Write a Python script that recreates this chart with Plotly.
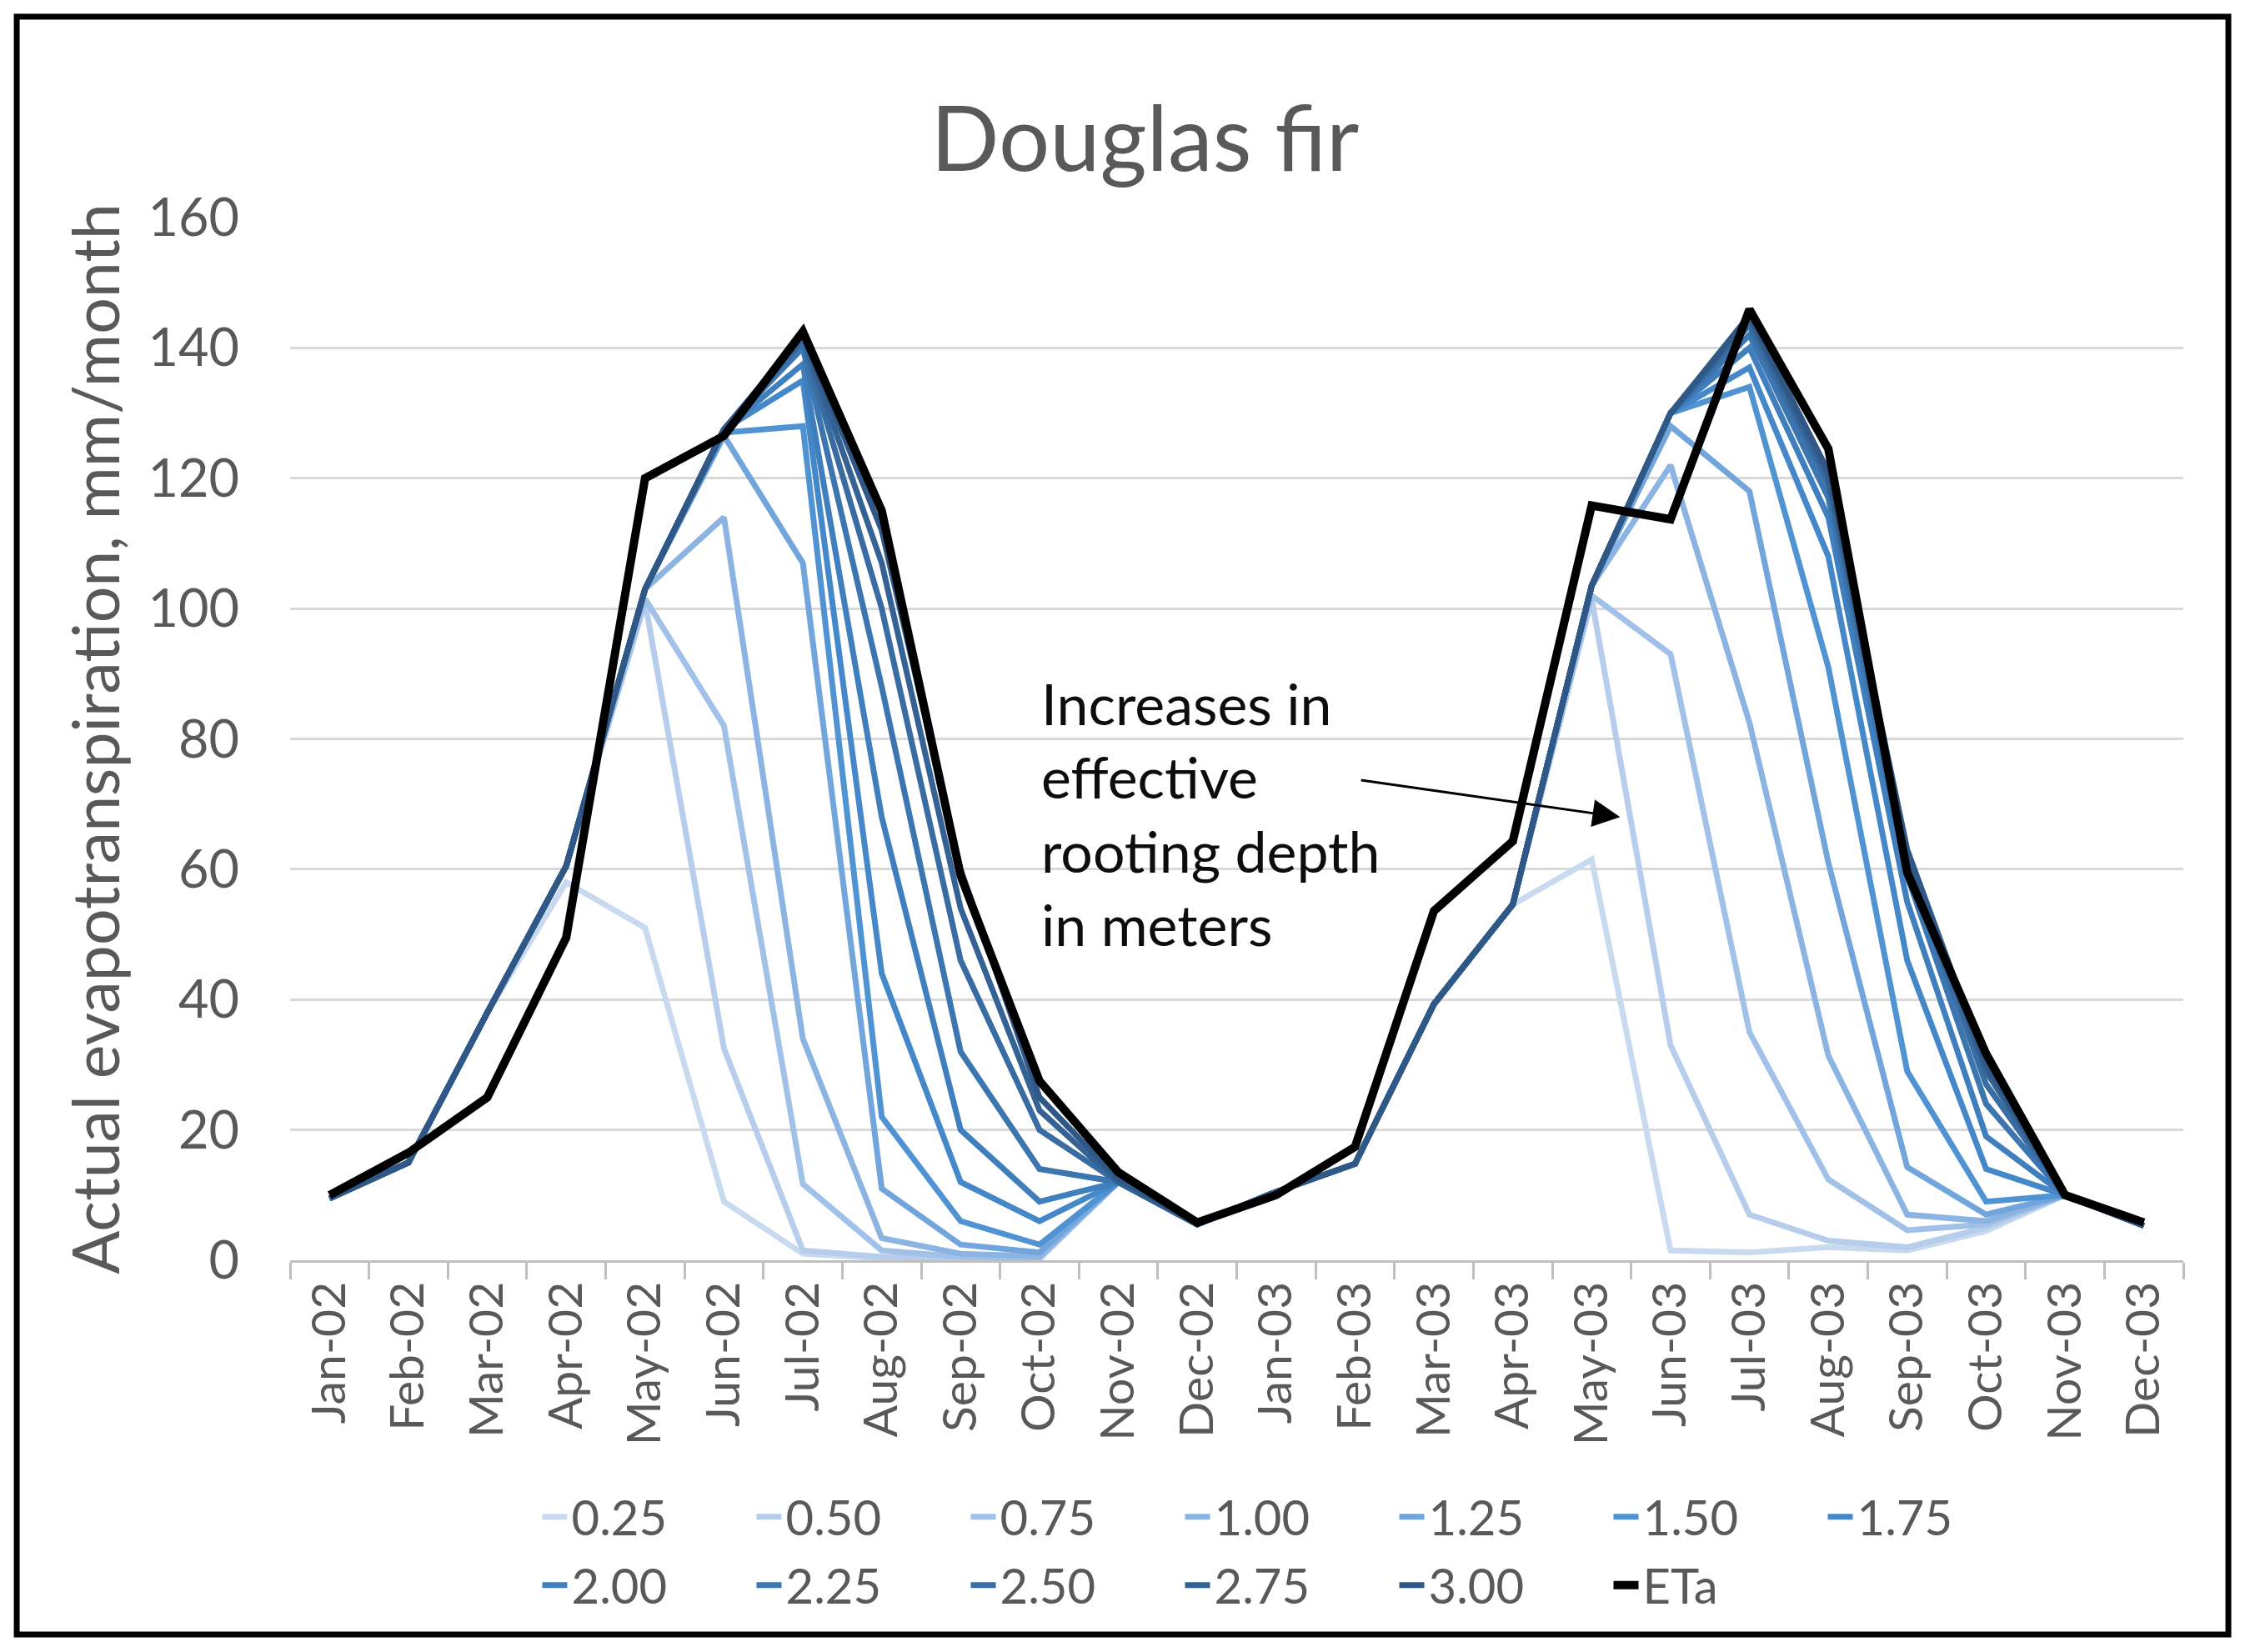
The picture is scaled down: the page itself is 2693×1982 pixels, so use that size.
import plotly.graph_objects as go

months = ["Jan-02", "Feb-02", "Mar-02", "Apr-02", "May-02", "Jun-02",
          "Jul-02", "Aug-02", "Sep-02", "Oct-02", "Nov-02", "Dec-02",
          "Jan-03", "Feb-03", "Mar-03", "Apr-03", "May-03", "Jun-03",
          "Jul-03", "Aug-03", "Sep-03", "Oct-03", "Nov-03", "Dec-03"]

# simulated ET for each effective rooting depth (m), mm/month
rd_025 = [9.5, 15, 38, 58, 51, 9, 1, 0.3, 0.2, 0.2, 12, 5.5,
          10.5, 14.8, 39.3, 54.6, 61.5, 1.5, 1.2, 2.0, 1.5, 4.5, 10, 5.3]
rd_050 = [9.5, 15, 38, 60.5, 101, 32.5, 1.5, 0.5, 0.3, 0.3, 12, 5.5,
          10.5, 14.8, 39.3, 54.6, 101.5, 33, 7, 3, 2, 5, 10, 5.3]
rd_075 = [9.5, 15, 38, 60.5, 101.5, 82, 11.7, 1.5, 0.5, 0.4, 12, 5.5,
          10.5, 14.8, 39.3, 54.6, 102, 93, 35, 12.4, 4.6, 5.5, 10, 5.3]
rd_100 = [9.5, 15, 38, 60.5, 103, 114, 34, 3.4, 1, 0.6, 12, 5.5,
          10.5, 14.8, 39.3, 54.6, 103.5, 122, 82.5, 31.4, 7, 6, 10, 5.3]
rd_125 = [9.5, 15, 38, 60.5, 103, 126.5, 107, 11, 2.4, 1.2, 12, 5.5,
          10.5, 14.8, 39.3, 54.6, 103.5, 128, 118, 61, 14.3, 7, 10, 5.3]
rd_150 = [9.5, 15, 38, 60.5, 103, 127, 128, 22, 6, 2.4, 12, 5.5,
          10.5, 14.8, 39.3, 54.6, 103.5, 130, 134, 91, 29, 9, 10, 5.3]
rd_175 = [9.5, 15, 38, 60.5, 103, 127.5, 135, 44, 12, 6, 12, 5.5,
          10.5, 14.8, 39.3, 54.6, 103.5, 130, 137, 108, 46, 14, 10, 5.3]
rd_200 = [9.5, 15, 38, 60.5, 103, 127.5, 137.5, 68, 20, 9, 12, 5.5,
          10.5, 14.8, 39.3, 54.6, 103.5, 130, 140, 114, 55, 19, 10, 5.3]
rd_225 = [9.5, 15, 38, 60.5, 103, 127.5, 140, 88, 32, 14, 12, 5.5,
          10.5, 14.8, 39.3, 54.6, 103.5, 130, 142, 117, 59, 24, 10, 5.3]
rd_250 = [9.5, 15, 38, 60.5, 103, 127.5, 141, 100, 46, 20, 12, 5.5,
          10.5, 14.8, 39.3, 54.6, 103.5, 130, 143.5, 119, 61, 27, 10, 5.3]
rd_275 = [9.5, 15, 38, 60.5, 103, 127.5, 141.5, 107, 54, 23, 12, 5.5,
          10.5, 14.8, 39.3, 54.6, 103.5, 130, 144.5, 120, 62, 29, 10, 5.3]
rd_300 = [9.5, 15, 38, 60.5, 103, 127.5, 142, 112, 60, 25, 12.5, 5.5,
          10.5, 14.8, 39.3, 54.6, 103.5, 130, 145, 121, 63, 30, 10, 5.3]

# actual ET
eta = [10, 16.5, 25, 49.5, 120, 126.5, 142.5, 115, 59, 27.5, 13.5, 5.8,
       10, 17.4, 53.6, 64.3, 115.8, 113.7, 145.9, 124.5, 59.5, 31.7, 10, 5.8]

depth_labels = ["0.25", "0.50", "0.75", "1.00", "1.25", "1.50",
                "1.75", "2.00", "2.25", "2.50", "2.75", "3.00"]
depth_series = [rd_025, rd_050, rd_075, rd_100, rd_125, rd_150,
                rd_175, rd_200, rd_225, rd_250, rd_275, rd_300]
depth_colors = ["#c8daf0", "#b6cdec", "#a2c1e8", "#8cb4e2", "#72a5dc", "#4f93d3",
                "#4588c9", "#407fbd", "#3c76b0", "#386ca2", "#346294", "#305886"]

FONT = "Lato"
GREY = "#595959"

fig = go.Figure()

for i, (lab, vals, col) in enumerate(zip(depth_labels, depth_series, depth_colors)):
    fig.add_trace(go.Scatter(
        x=months, y=vals, mode="lines", name=lab,
        line=dict(color=col, width=7),
        legend="legend" if i < 7 else "legend2",
    ))

fig.add_trace(go.Scatter(
    x=months, y=eta, mode="lines", name="ETa",
    line=dict(color="black", width=10),
    legend="legend2",
))

legend_style = dict(
    orientation="h", xanchor="left", yanchor="middle", x=0.131,
    font=dict(family=FONT, size=58, color=GREY),
    entrywidth=212, entrywidthmode="pixels",
    bgcolor="rgba(0,0,0,0)", traceorder="normal",
)

fig.update_layout(
    width=2693, height=1982,
    margin=dict(l=348, r=74, t=261, b=470),
    paper_bgcolor="white", plot_bgcolor="white",
    font=dict(family=FONT, color=GREY),
    title=dict(text="Douglas fir", x=0.51, xanchor="center",
               y=0.9157, yanchor="middle", yref="container",
               font=dict(family=FONT, size=108, color=GREY)),
    xaxis=dict(
        type="category", range=[-0.5, len(months) - 0.5], tickangle=-90,
        tickfont=dict(family=FONT, size=57, color=GREY),
        showgrid=False, zeroline=False,
        showline=True, linecolor="#bfbfbf", linewidth=3,
        ticks="outside", tickson="boundaries", ticklen=20,
        tickcolor="#bfbfbf", tickwidth=3,
    ),
    yaxis=dict(
        range=[0, 160], dtick=20,
        tickfont=dict(family=FONT, size=63, color=GREY),
        showgrid=True, gridcolor="#d9d9d9", gridwidth=3,
        zeroline=False, showline=False, ticks="",
        ticklabelstandoff=60,
        title=dict(text="Actual evapotranspiration, mm/month",
                   font=dict(family=FONT, size=77, color=GREY), standoff=8),
    ),
    legend=dict(legend_style, y=-0.2462),
    legend2=dict(legend_style, y=-0.3118),
    showlegend=True,
    annotations=[
        dict(text="Increases in<br>effective<br>rooting depth<br>in meters",
             x="Oct-02", y=68.6, xref="x", yref="y",
             xanchor="left", yanchor="middle", align="left", showarrow=False,
             font=dict(family=FONT, size=68, color="#0d0d0d")),
        dict(text="", x=16.36, y=68.0, xref="x", yref="y",
             ax=13.06, ay=73.7, axref="x", ayref="y",
             showarrow=True, arrowhead=2, arrowsize=2.2, arrowwidth=3,
             arrowcolor="black"),
    ],
    shapes=[
        dict(type="rect", xref="paper", yref="paper",
             x0=-0.1444, x1=1.0238, y0=-0.3589, y1=1.1927,
             line=dict(color="black", width=7), fillcolor="rgba(0,0,0,0)",
             layer="below"),
    ],
)

fig.write_html("out.html",
               config={"displayModeBar": False},
               post_script="document.body.style.margin='0';"
                           "document.body.style.overflow='hidden';")
